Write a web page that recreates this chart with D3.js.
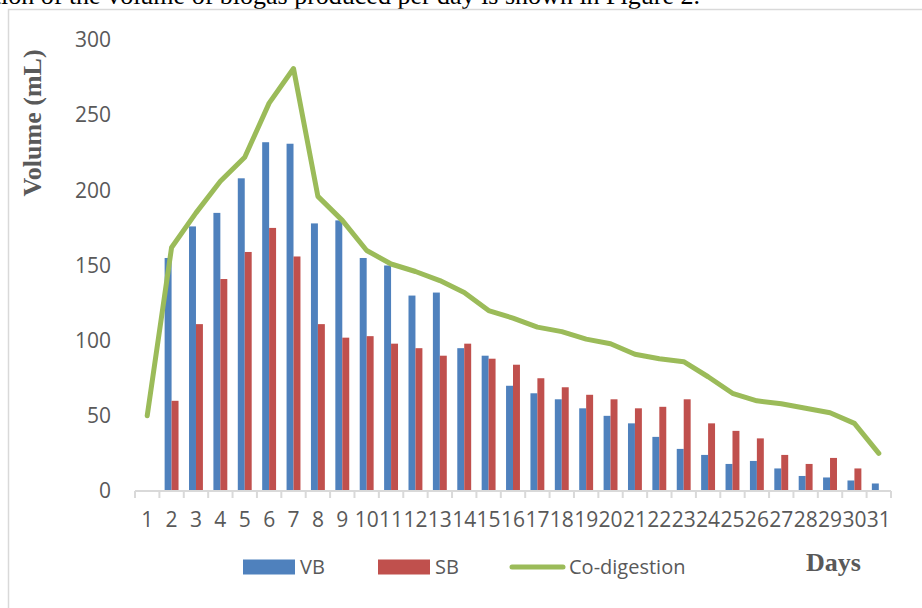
<!DOCTYPE html>
<html>
<head>
<meta charset="utf-8">
<script src="https://cdn.jsdelivr.net/npm/d3@7"></script>
<style>
  html, body { margin: 0; padding: 0; background: #fff; overflow: hidden; }
  svg { display: block; }
</style>
</head>
<body>
<svg id="chart" width="922" height="608"></svg>
<script>
// ---- data ----
const days = ["1","2","3","4","5","6","7","8","9","10","11","12","13","14","15","16","17","18","19","20","21","22","23","24","25","26","27","28","29","30","31"];
const vb  = [0,155,176,185,208,232,231,178,180,155,150,130,132,95,90,70,65,61,55,50,45,36,28,24,18,20,15,10,9,7,5];
const sb  = [0,60,111,141,159,175,156,111,102,103,98,95,90,98,88,84,75,69,64,61,55,56,61,45,40,35,24,18,22,15,0];
const coDigestion = [50,162,185,206,222,258,281,196,180,160,151,146,140,132,120,115,109,106,101,98,91,88,86,76,65,60,58,55,52,45,25];
const yTicks = [0,50,100,150,200,250,300];
const seriesNames = ["VB","SB","Co-digestion"];
const seriesColors = ["#4F81BD","#C0504D","#9BBB59"];

// ---- layout ----
const svg = d3.select("#chart");
const plot = {left: 135, right: 891, top: 40, bottom: 491};
const labelColor = "#595959";
const axisFont = "'Open Sans', sans-serif";

// chart frame + cut-off caption text above
svg.append("text")
  .attr("x", 700).attr("y", 3.5)
  .attr("text-anchor", "end")
  .attr("font-family", "'Liberation Serif', 'Times New Roman', serif")
  .attr("font-size", 26)
  .attr("fill", "#000")
  .text("ation of the volume of biogas produced per day is shown in Figure 2.");
svg.append("rect")
  .attr("x", 8.5).attr("y", 9.5).attr("width", 1000).attr("height", 800)
  .attr("fill", "#fff").attr("stroke", "#D9D9D9").attr("stroke-width", 1.5);

// ---- scales ----
const x = d3.scaleBand().domain(days).range([plot.left, plot.right])
  .paddingInner(0.43).paddingOuter(0.215);
const xs = d3.scaleBand().domain(["VB","SB"]).range([0, x.bandwidth()]);
const y = d3.scaleLinear().domain([0, 300]).range([plot.bottom, plot.top]);

// ---- y axis (labels only) ----
const yAxis = svg.append("g")
  .attr("transform", `translate(${plot.left},0)`)
  .call(d3.axisLeft(y).tickValues(yTicks).tickSize(0).tickPadding(24));
yAxis.select(".domain").remove();
yAxis.selectAll("text")
  .attr("font-family", axisFont).attr("font-size", 21).attr("fill", labelColor);

// ---- bars ----
const rows = days.map((d, i) => ({day: d, VB: vb[i], SB: sb[i]}));
const groups = svg.append("g").selectAll("g").data(rows).join("g")
  .attr("transform", d => `translate(${x(d.day)},0)`);
groups.selectAll("rect")
  .data(d => ["VB","SB"].map((k, j) => ({key: k, value: d[k], color: seriesColors[j]})))
  .join("rect")
  .attr("x", d => xs(d.key))
  .attr("width", xs.bandwidth())
  .attr("y", d => y(d.value))
  .attr("height", d => y(0) - y(d.value))
  .attr("fill", d => d.color);

// ---- x axis ----
const step = x.step();
const boundaries = days.map(d => x(d) - step * x.paddingInner() / 2);
boundaries.push(x(days[days.length - 1]) + x.bandwidth() + step * x.paddingInner() / 2);
const xAxisG = svg.append("g");
xAxisG.append("line")
  .attr("x1", boundaries[0]).attr("x2", boundaries[boundaries.length - 1])
  .attr("y1", y(0)).attr("y2", y(0))
  .attr("stroke", "#D9D9D9").attr("stroke-width", 2);
xAxisG.selectAll("line.tick").data(boundaries).join("line")
  .attr("class", "tick")
  .attr("x1", d => d).attr("x2", d => d)
  .attr("y1", y(0)).attr("y2", y(0) + 7)
  .attr("stroke", "#D9D9D9").attr("stroke-width", 2);
const xLab = svg.append("g")
  .attr("transform", `translate(0,${y(0)})`)
  .call(d3.axisBottom(x).tickSize(0).tickPadding(21));
xLab.select(".domain").remove();
xLab.selectAll("text")
  .attr("font-family", axisFont).attr("font-size", 21).attr("fill", labelColor);

// ---- line ----
const line = d3.line()
  .x((d, i) => x(days[i]) + x.bandwidth() / 2)
  .y(d => y(d));
svg.append("path")
  .datum(coDigestion)
  .attr("d", line)
  .attr("fill", "none")
  .attr("stroke", seriesColors[2])
  .attr("stroke-width", 5)
  .attr("stroke-linejoin", "round")
  .attr("stroke-linecap", "round");

// ---- axis titles ----
svg.append("text")
  .attr("transform", "translate(41,123) rotate(-90)")
  .attr("text-anchor", "middle")
  .attr("font-family", "'Liberation Serif', 'Times New Roman', serif")
  .attr("font-weight", "bold").attr("font-size", 26)
  .attr("fill", labelColor)
  .text("Volume (mL)");
svg.append("text")
  .attr("x", 806).attr("y", 571)
  .attr("font-family", "'Liberation Serif', 'Times New Roman', serif")
  .attr("font-weight", "bold").attr("font-size", 26)
  .attr("fill", labelColor)
  .text("Days");

// ---- legend ----
const legendX = [243, 378, 510];
const legendY = 567;
const leg = svg.append("g").selectAll("g").data(seriesNames).join("g")
  .attr("transform", (d, i) => `translate(${legendX[i]},${legendY})`);
leg.each(function(d, i) {
  const g = d3.select(this);
  if (i < 2) {
    g.append("rect").attr("x", 0).attr("y", -7.5).attr("width", 52).attr("height", 15)
      .attr("fill", seriesColors[i]);
    g.append("text").attr("x", 57).attr("y", 0).attr("dy", "0.35em")
      .attr("font-family", axisFont).attr("font-size", 20).attr("fill", labelColor).text(d);
  } else {
    g.append("line").attr("x1", 2).attr("x2", 53).attr("y1", 0).attr("y2", 0)
      .attr("stroke", seriesColors[i]).attr("stroke-width", 5).attr("stroke-linecap", "round");
    g.append("text").attr("x", 59).attr("y", 0).attr("dy", "0.35em")
      .attr("font-family", axisFont).attr("font-size", 20).attr("fill", labelColor).text(d);
  }
});
</script>
</body>
</html>
